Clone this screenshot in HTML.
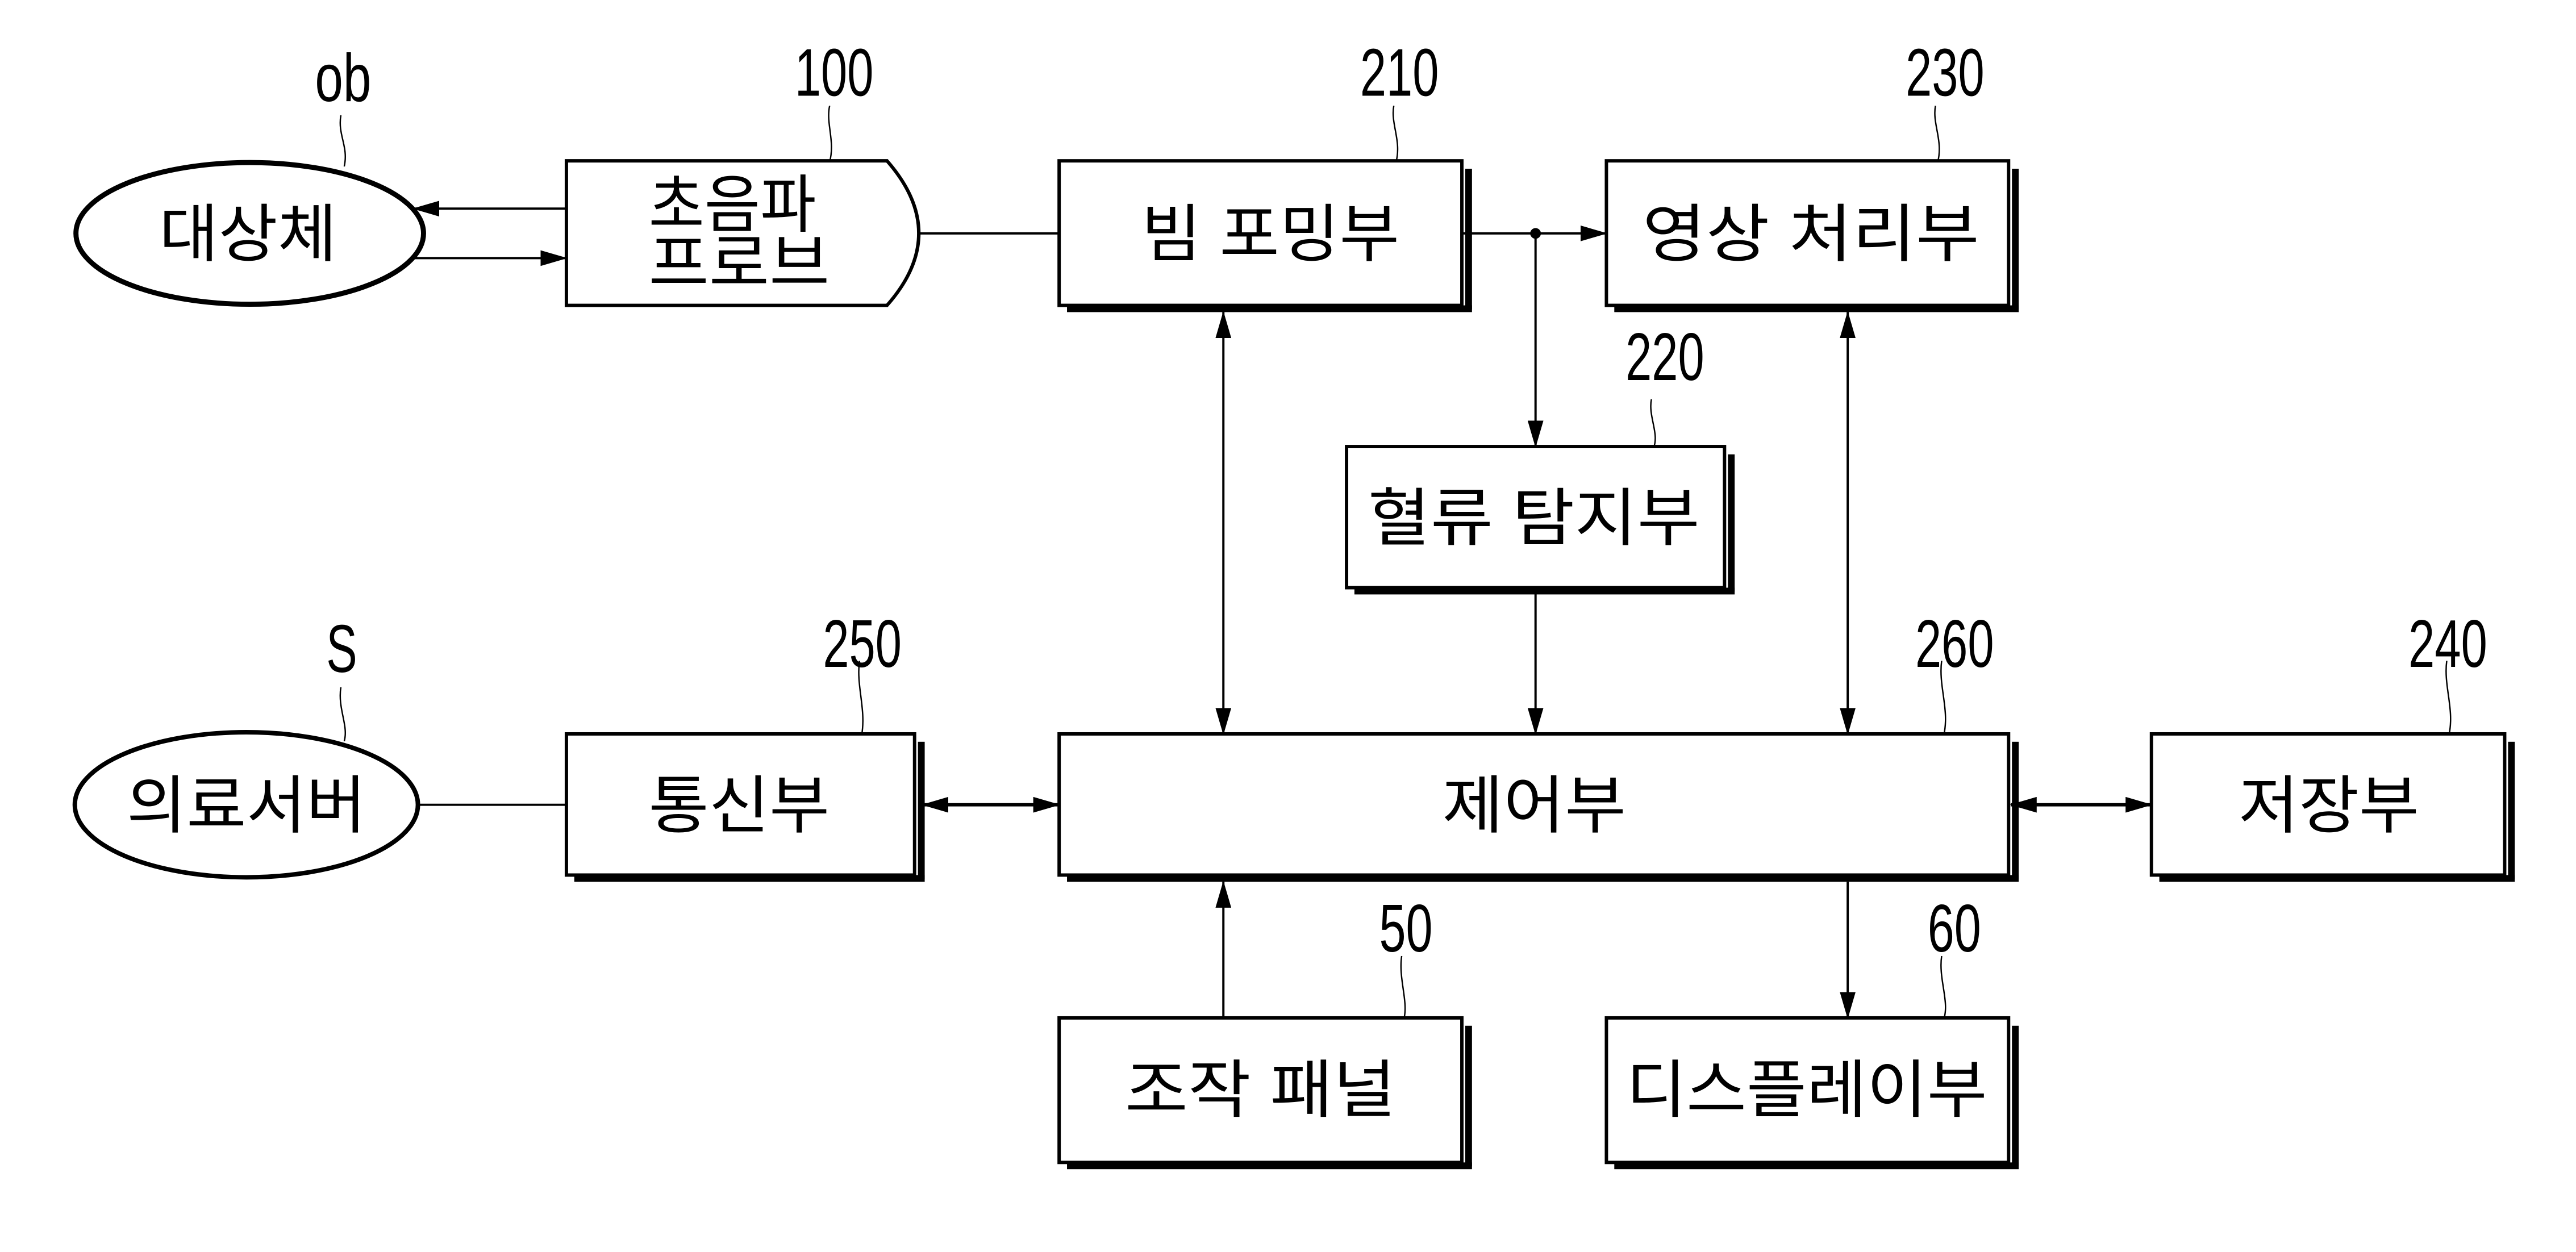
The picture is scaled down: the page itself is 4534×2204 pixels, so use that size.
<!DOCTYPE html>
<html><head><meta charset="utf-8"><style>
html,body{margin:0;padding:0;background:#fff}
svg{display:block}
text{font-family:"Liberation Sans","Noto Sans CJK KR",sans-serif;fill:#000}
</style></head><body>
<svg width="4534" height="2204" viewBox="0 0 4534 2204" xmlns="http://www.w3.org/2000/svg">
<defs>
<marker id="a" markerWidth="48" markerHeight="28" refX="46" refY="14" orient="auto-start-reverse" markerUnits="userSpaceOnUse">
<path d="M0,0 L48,14 L0,28 Z" fill="#000"/></marker>
</defs>
<g transform="scale(0.99)">
<g fill="none" stroke="#000">
<g stroke="none" fill="#000">
<rect x="2605" y="300" width="12" height="250"/><rect x="1897" y="543" width="720" height="12"/>
<rect x="3577" y="300" width="12" height="250"/><rect x="2870" y="543" width="719" height="12"/>
<rect x="3072" y="808" width="12" height="244"/><rect x="2408" y="1045" width="676" height="12"/>
<rect x="1632" y="1319" width="12" height="244"/><rect x="1021" y="1556" width="623" height="12"/>
<rect x="3577" y="1319" width="12" height="244"/><rect x="1897" y="1556" width="1692" height="12"/>
<rect x="4459" y="1319" width="12" height="244"/><rect x="3839" y="1556" width="632" height="12"/>
<rect x="2605" y="1824" width="12" height="250"/><rect x="1897" y="2067" width="720" height="12"/>
<rect x="3577" y="1824" width="12" height="250"/><rect x="2870" y="2067" width="719" height="12"/>
</g>
<g stroke-width="6">
<ellipse cx="444" cy="415" rx="309" ry="126" stroke-width="9"/>
<ellipse cx="438" cy="1431" rx="305" ry="129" stroke-width="8"/>
<path d="M1007,286 L1577,286 Q1690,415 1577,543 L1007,543 Z"/>
<rect x="1883" y="286" width="716" height="257"/>
<rect x="2856" y="286" width="715" height="257"/>
<rect x="2394" y="794" width="672" height="251"/>
<rect x="1007" y="1305" width="619" height="251"/>
<rect x="1883" y="1305" width="1688" height="251"/>
<rect x="3825" y="1305" width="628" height="251"/>
<rect x="1883" y="1810" width="716" height="257"/>
<rect x="2856" y="1810" width="715" height="257"/>
</g>
<g stroke-width="4">
<line x1="1007" y1="371" x2="735" y2="371" marker-end="url(#a)"/>
<line x1="735" y1="459" x2="1007" y2="459" marker-end="url(#a)"/>
<line x1="1635" y1="415" x2="1883" y2="415"/>
<line x1="2599" y1="415" x2="2856" y2="415" marker-end="url(#a)"/>
<line x1="2730" y1="415" x2="2730" y2="794" marker-end="url(#a)"/>
<line x1="2730" y1="1045" x2="2730" y2="1305" marker-end="url(#a)"/>
<line x1="2175" y1="555" x2="2175" y2="1305" marker-start="url(#a)" marker-end="url(#a)"/>
<line x1="3285" y1="555" x2="3285" y2="1305" marker-start="url(#a)" marker-end="url(#a)"/>
<line x1="745" y1="1431" x2="1007" y2="1431"/>
<line x1="1640" y1="1431" x2="1883" y2="1431" marker-start="url(#a)" marker-end="url(#a)" stroke-width="6"/>
<line x1="3575" y1="1431" x2="3825" y2="1431" marker-start="url(#a)" marker-end="url(#a)" stroke-width="6"/>
<line x1="2175" y1="1810" x2="2175" y2="1568" marker-end="url(#a)"/>
<line x1="3285" y1="1568" x2="3285" y2="1810" marker-end="url(#a)"/>
</g>
<circle cx="2730" cy="415" r="9" fill="#000"/>
<g stroke-width="2.5">
<path d="M606,205 C600,240 620,260 612,296"/>
<path d="M1475,188 C1468,220 1485,250 1475,288"/>
<path d="M2478,188 C2472,220 2492,250 2482,288"/>
<path d="M3441,188 C3435,220 3455,250 3445,288"/>
<path d="M2936,710 C2930,740 2950,770 2940,796"/>
<path d="M606,1222 C600,1260 620,1290 612,1318"/>
<path d="M1528,1175 C1522,1220 1540,1260 1532,1307"/>
<path d="M3452,1175 C3446,1220 3466,1260 3456,1307"/>
<path d="M4350,1175 C4344,1220 4364,1260 4354,1307"/>
<path d="M2492,1700 C2486,1740 2504,1780 2496,1812"/>
<path d="M3452,1700 C3446,1740 3466,1780 3456,1812"/>
</g>
</g>
<g font-size="112">
<text x="283" y="455" textLength="316" lengthAdjust="spacingAndGlyphs">대상체</text>
<text x="1153" y="403" textLength="298" lengthAdjust="spacingAndGlyphs">초음파</text>
<text x="1153" y="507" textLength="322" lengthAdjust="spacingAndGlyphs">프로브</text>
<text x="2029" y="455" textLength="459" lengthAdjust="spacingAndGlyphs">빔 포밍부</text>
<text x="2920" y="455" textLength="599" lengthAdjust="spacingAndGlyphs">영상 처리부</text>
<text x="2432" y="960" textLength="590" lengthAdjust="spacingAndGlyphs">혈류 탐지부</text>
<text x="225" y="1471" textLength="426" lengthAdjust="spacingAndGlyphs">의료서버</text>
<text x="1153" y="1471" textLength="322" lengthAdjust="spacingAndGlyphs">통신부</text>
<text x="2564" y="1471" textLength="327" lengthAdjust="spacingAndGlyphs">제어부</text>
<text x="3980" y="1471" textLength="321" lengthAdjust="spacingAndGlyphs">저장부</text>
<text x="2000" y="1977" textLength="482" lengthAdjust="spacingAndGlyphs">조작 패널</text>
<text x="2891" y="1977" textLength="642" lengthAdjust="spacingAndGlyphs">디스플레이부</text>
</g>
<g font-size="120">
<text x="560" y="180" textLength="100" lengthAdjust="spacingAndGlyphs">ob</text>
<text x="1413" y="170" textLength="140" lengthAdjust="spacingAndGlyphs">100</text>
<text x="2418" y="170" textLength="140" lengthAdjust="spacingAndGlyphs">210</text>
<text x="3388" y="170" textLength="140" lengthAdjust="spacingAndGlyphs">230</text>
<text x="2890" y="676" textLength="140" lengthAdjust="spacingAndGlyphs">220</text>
<text x="580" y="1195" textLength="55" lengthAdjust="spacingAndGlyphs">S</text>
<text x="1463" y="1186" textLength="140" lengthAdjust="spacingAndGlyphs">250</text>
<text x="3405" y="1186" textLength="140" lengthAdjust="spacingAndGlyphs">260</text>
<text x="4282" y="1186" textLength="140" lengthAdjust="spacingAndGlyphs">240</text>
<text x="2452" y="1692" textLength="95" lengthAdjust="spacingAndGlyphs">50</text>
<text x="3427" y="1692" textLength="95" lengthAdjust="spacingAndGlyphs">60</text>
</g>
</g>
</svg>
</body></html>
